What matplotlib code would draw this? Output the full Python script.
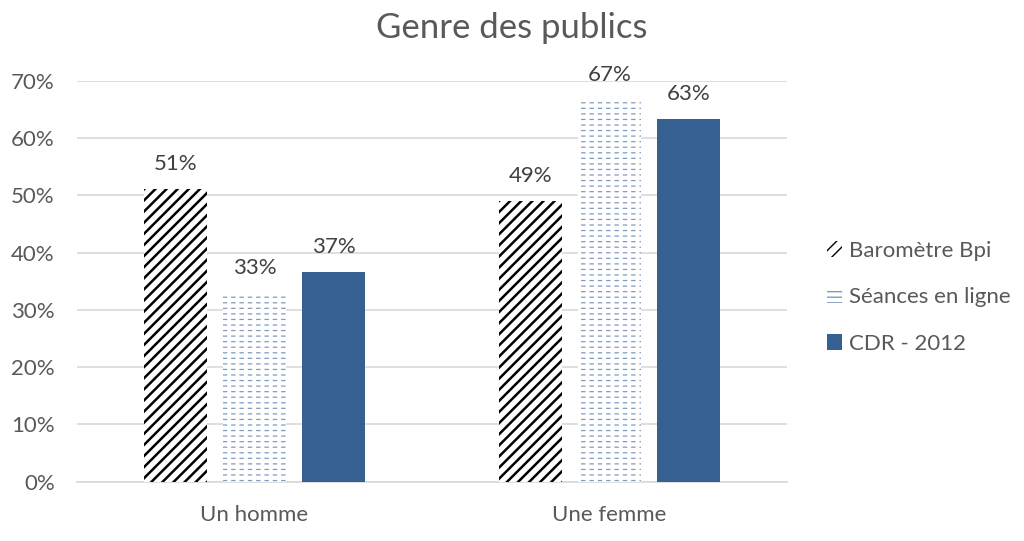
import numpy as np
import matplotlib as mpl
import matplotlib.pyplot as plt

categories = ['Un homme', 'Une femme']
series = ['Baromètre Bpi', 'Séances en ligne', 'CDR - 2012']
barometre = [0.511, 0.49]
seances = [0.329, 0.667]
cdr = [0.366, 0.634]
yticks = [0, 0.1, 0.2, 0.3, 0.4, 0.5, 0.6, 0.7]

plt.rcParams['font.family'] = ['Lato', 'DejaVu Sans']
grey_txt = '#595959'
blue = '#366092'
light_blue = '#7f9cc0'

fig = plt.figure(figsize=(10.24, 5.41), dpi=100)
ax = fig.add_axes([77 / 1024, 1 - 481.5 / 541, 710 / 1024, 400.5 / 541])

x = np.arange(len(categories))
w = 0.175
off = 0.2225


def hatched_bars(xs, vals, hatch, color, lw, **kw):
    with mpl.rc_context({'hatch.linewidth': lw, 'hatch.color': color}):
        bars = ax.bar(xs, vals, w, facecolor='white', edgecolor=color,
                      linewidth=0, hatch=hatch, **kw)
        for b in bars:
            if hasattr(b, 'set_hatch_linewidth'):
                b.set_hatch_linewidth(lw)
    return bars


b1 = hatched_bars(x - off, barometre, '///', 'black', 1.8, label=series[0], zorder=3)
b2 = hatched_bars(x, seances, '---', light_blue, 0.9, label=series[1], zorder=3)
# white vertical strokes break the lines into short dashes
with mpl.rc_context({'hatch.linewidth': 2.8}):
    over = ax.bar(x, seances, w, facecolor='none', edgecolor='white',
                  linewidth=0, hatch='||', zorder=4)
    for b in over:
        if hasattr(b, 'set_hatch_linewidth'):
            b.set_hatch_linewidth(2.8)
b3 = ax.bar(x + off, cdr, w, color=blue, label=series[2], zorder=3)

for bars, vals in [(b1, barometre), (b2, seances), (b3, cdr)]:
    for b, v in zip(bars, vals):
        ax.text(b.get_x() + b.get_width() / 2, v + 0.026, '{:.0f}%'.format(v * 100),
                ha='center', va='bottom', fontsize=16, color='#404040', clip_on=False)

ax.set_xlim(-0.5, 1.5)
ax.set_ylim(0, 0.7)
ax.set_yticks(yticks)
ax.set_yticklabels(['{:.0f}%'.format(t * 100) for t in yticks])
ax.set_xticks(x)
ax.set_xticklabels(categories)
ax.tick_params(axis='both', length=0, labelsize=16, colors=grey_txt)
ax.tick_params(axis='y', pad=16)
ax.tick_params(axis='x', pad=17)
ax.grid(axis='y', color='#d9d9d9', linewidth=1.2, zorder=0)
ax.set_axisbelow(True)
for s in ['top', 'right', 'left']:
    ax.spines[s].set_visible(False)
ax.spines['bottom'].set_color('#d9d9d9')
ax.spines['bottom'].set_linewidth(1.2)

fig.suptitle('Genre des publics', y=0.978, fontsize=25, color=grey_txt)

leg = ax.legend(loc='center left', bbox_to_anchor=(1.028, 0.46), frameon=False,
                fontsize=16, handlelength=0.7, handleheight=0.7,
                labelspacing=1.2, handletextpad=0.3, labelcolor=grey_txt)

fig.savefig('out.png', dpi=100)
